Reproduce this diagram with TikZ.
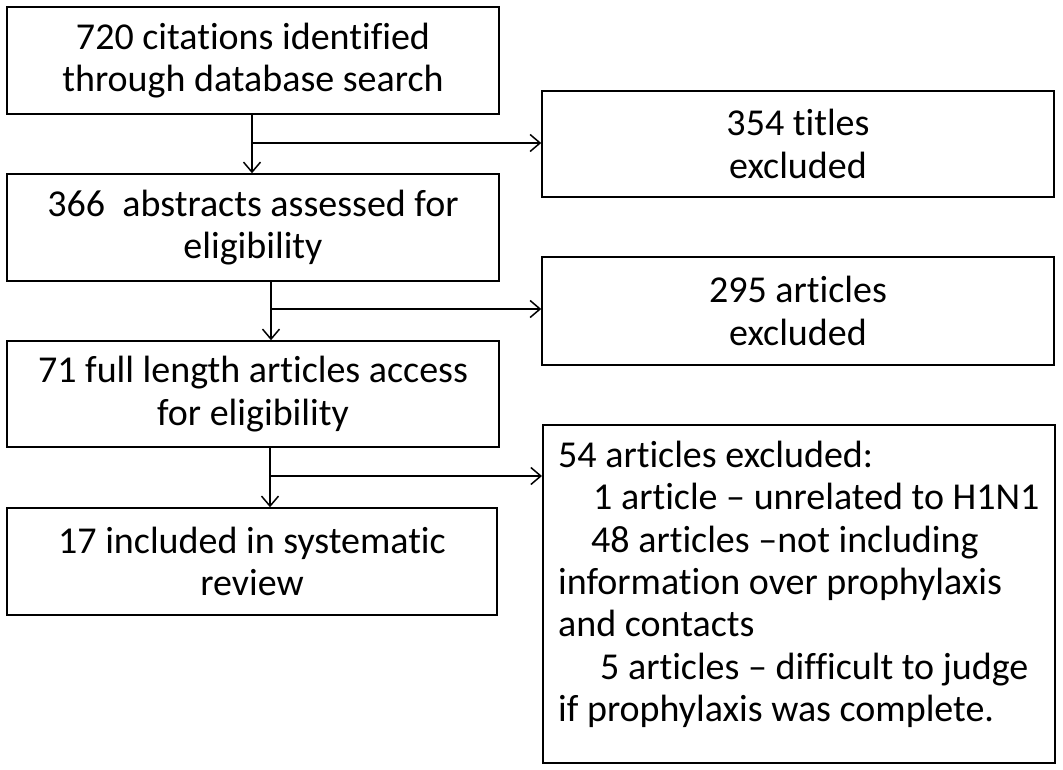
\documentclass[tikz,border=0pt]{standalone}
\usepackage{fontspec}
\setmainfont{Carlito}[Ligatures=NoCommon]
\usetikzlibrary{arrows.meta}
\begin{document}
\begin{tikzpicture}[x=1pt,y=-1pt,
  txt/.style={font=\fontsize{38}{42.3}\selectfont},
  box/.style={draw, line width=1.5pt, rectangle, inner sep=0pt, align=center, txt},
  arr/.style={line width=1.5pt, -{Straight Barb[length=10pt,width=17pt,line width=1.5pt]}}
]
\useasboundingbox (0,0) rectangle (1063,770);
% left column
\node[box, minimum width=492pt, minimum height=107pt] (b1) at (253,60.5) {720 citations identified\\through database search};
\node[box, minimum width=492pt, minimum height=107pt] (b2) at (253,227.5) {366\ \ abstracts assessed for\\eligibility};
\node[box, minimum width=492pt, minimum height=106pt] (b3) at (253,394) {71 full length articles access\\for eligibility};
\node[box, minimum width=490pt, minimum height=107pt] (b4) at (252,561.5) {17 included in systematic\\review};
% right column
\node[box, minimum width=512pt, minimum height=106pt] (rA) at (798,144) {354 titles\\excluded};
\node[box, minimum width=512pt, minimum height=108pt] (rB) at (798,311) {295 articles\\excluded};
\node[box, minimum width=512pt, minimum height=338pt, anchor=north west] (rC) at (542,424) {};
\node[txt, anchor=north west, align=left, inner sep=0pt] (rCt) at (558,441)
  {54 articles excluded:\\
   \hspace*{35pt}1 article -- unrelated to H1N1\\
   \hspace*{33pt}48 articles --not including\\
   information over prophylaxis\\
   and contacts\\
   \hspace*{42pt}5 articles -- difficult to judge\\
   if prophylaxis was complete.};
% connectors
\coordinate (v1) at (252,143);
\coordinate (v2) at (271,309);
\coordinate (v3) at (270,476);
\draw[arr] (b1.south -| v1) -- (b2.north -| v1);
\draw[arr] (v1) -- (v1 -| rA.west);
\draw[arr] (b2.south -| v2) -- (b3.north -| v2);
\draw[arr] (v2) -- (v2 -| rB.west);
\draw[arr] (b3.south -| v3) -- (b4.north -| v3);
\draw[arr] (v3) -- (v3 -| rC.west);
\end{tikzpicture}
\end{document}
